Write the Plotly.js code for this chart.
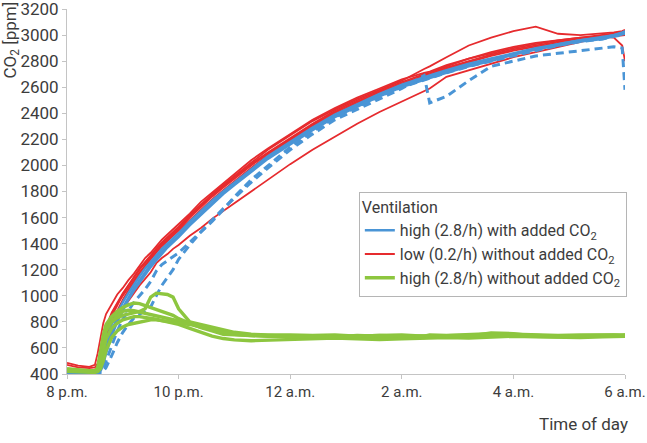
<!DOCTYPE html>
<html>
<head>
<meta charset="utf-8">
<script src="https://cdn.plot.ly/plotly-3.0.1.min.js"></script>
<style>
  html, body { margin: 0; padding: 0; background: #fff; }
  #chart { width: 647px; height: 443px; }
</style>
</head>
<body>
<div id="chart"></div>
<script>
// hours after 8 p.m.
const hours = [0, 0.2, 0.4, 0.5, 0.55, 0.6, 0.65, 0.7,
  0.8, 0.9, 1.0, 1.1, 1.2, 1.3, 1.4, 1.5, 1.6, 1.7, 1.8, 1.9, 2.0,
  2.2, 2.4, 2.6, 2.8, 3.0, 3.3, 3.6, 4.0,
  4.4, 4.8, 5.2, 5.6, 6.0, 6.4, 6.5,
  6.8, 7.2, 7.6, 8.0, 8.4, 8.8, 9.2, 9.6, 9.8, 9.95, 10.0];

const tickHours = [0, 2, 4, 6, 8, 10];
const tickLabels = ['8 p.m.', '10 p.m.', '12 a.m.', '2 a.m.', '4 a.m.', '6 a.m.'];
const ppmTicks = [400, 600, 800, 1000, 1200, 1400, 1600, 1800, 2000,
  2200, 2400, 2600, 2800, 3000, 3200];

// low ventilation (0.2/h) without added CO2
const low1 = [485, 465, 455, 470, 560, 680, 790, 860,
  940, 1010, 1060, 1120, 1170, 1230, 1290, 1330, 1380, 1430, 1470, 1510, 1550,
  1630, 1720, 1790, 1860, 1930, 2040, 2130, 2240,
  2350, 2440, 2520, 2590, 2660, 2710, 2720,
  2770, 2820, 2860, 2900, 2930, 2960, 2980, 3000, 3010, 3020, 3030];
const low2 = [470, 450, 445, 450, 480, 560, 680, 760,
  870, 950, 1020, 1080, 1140, 1200, 1250, 1300, 1360, 1410, 1450, 1490, 1530,
  1620, 1700, 1780, 1850, 1920, 2020, 2120, 2230,
  2340, 2430, 2510, 2580, 2650, 2740, 2760,
  2830, 2920, 2980, 3030, 3065, 3010, 3000, 3010, 3020, 3030, 3040];
const low3 = [410, 405, 405, 405, 410, 440, 520, 600,
  720, 820, 900, 960, 1020, 1080, 1130, 1180, 1250, 1290, 1320, 1360, 1390,
  1460, 1520, 1590, 1650, 1710, 1800, 1890, 2010,
  2120, 2220, 2320, 2410, 2490, 2570, 2590,
  2680, 2730, 2780, 2830, 2870, 2910, 2950, 2990, 3010, 3020, 3020];
const low4 = [440, 430, 425, 430, 470, 560, 660, 740,
  860, 940, 1000, 1060, 1120, 1180, 1230, 1290, 1340, 1390, 1430, 1470, 1510,
  1600, 1680, 1760, 1830, 1900, 2000, 2090, 2200,
  2310, 2410, 2490, 2560, 2630, 2690, 2700,
  2750, 2800, 2850, 2890, 2920, 2950, 2970, 2990, 3000, 3010, 3010];
const low5 = [400, 400, 402, 405, 430, 520, 620, 720,
  840, 930, 1010, 1080, 1150, 1210, 1260, 1310, 1360, 1400, 1440, 1480, 1520,
  1610, 1690, 1770, 1840, 1910, 2010, 2100, 2210,
  2320, 2420, 2500, 2570, 2640, 2700, 2710,
  2760, 2820, 2870, 2910, 2940, 2960, 2980, 2990, 2980, 2920, 2800];
const low6 = [430, 420, 418, 420, 450, 520, 610, 690,
  800, 890, 970, 1040, 1110, 1170, 1230, 1280, 1330, 1380, 1420, 1460, 1500,
  1580, 1660, 1740, 1810, 1880, 1980, 2080, 2190,
  2300, 2400, 2480, 2550, 2620, 2680, 2690,
  2740, 2790, 2840, 2880, 2910, 2940, 2960, 2980, 2990, 3000, 3000];

// high ventilation (2.8/h) with added CO2
const addedA = [425, 418, 415, 415, 420, 470, 560, 650,
  780, 870, 950, 1020, 1090, 1150, 1210, 1260, 1310, 1360, 1400, 1440, 1480,
  1570, 1650, 1730, 1800, 1870, 1970, 2070, 2180,
  2290, 2390, 2470, 2550, 2620, 2680, 2690,
  2730, 2780, 2820, 2860, 2900, 2930, 2960, 2980, 3000, 3010, 3020];
const addedB = [420, 415, 412, 412, 415, 440, 510, 600,
  730, 830, 910, 990, 1060, 1120, 1180, 1240, 1290, 1340, 1380, 1420, 1460,
  1550, 1630, 1710, 1790, 1860, 1960, 2060, 2170,
  2280, 2380, 2460, 2540, 2610, 2670, 2680,
  2720, 2770, 2810, 2850, 2890, 2920, 2950, 2970, 2990, 3000, 3010];
const addedC = [410, 408, 408, 408, 410, 420, 470, 560,
  690, 800, 890, 970, 1040, 1100, 1160, 1220, 1270, 1320, 1370, 1410, 1450,
  1540, 1620, 1700, 1780, 1850, 1950, 2050, 2160,
  2270, 2370, 2450, 2530, 2600, 2660, 2670,
  2710, 2760, 2800, 2850, 2890, 2930, 2960, 2990, 3000, 3020, 3030];
const addedDashA = [415, 410, 408, 408, 410, 415, 440, 500,
  620, 730, 820, 890, 950, 1000, 1050, 1110, 1190, 1240, 1270, 1300, 1330,
  1410, 1490, 1570, 1660, 1760, 1890, 2000, 2140,
  2260, 2370, 2450, 2530, 2600, 2660, 2670,
  2710, 2760, 2800, 2840, 2880, 2920, 2950, 2970, 2990, 3000, 3020];
const addedDashB = [405, 405, 405, 405, 406, 410, 420, 450,
  540, 640, 720, 780, 830, 860, 890, 915, 1000, 1080, 1140, 1200, 1280,
  1390, 1490, 1580, 1670, 1750, 1870, 1980, 2120,
  2240, 2350, 2430, 2510, 2590, 2690, 2480,
  2530, 2650, 2760, 2800, 2840, 2860, 2880, 2900, 2910, 2900, 2580];

// high ventilation (2.8/h) without added CO2
const plain1 = [440, 430, 425, 425, 440, 520, 640, 740,
  800, 830, 850, 860, 870, 880, 900, 990, 1020, 1015, 1010, 990, 900,
  800, 780, 760, 735, 720, 705, 700, 700,
  695, 700, 690, 695, 700, 690, 700,
  695, 700, 710, 705, 700, 695, 700, 700, 705, 700, 700];
const plain2 = [430, 425, 420, 420, 450, 580, 700, 780,
  840, 880, 910, 930, 945, 940, 925, 915, 895, 885, 870, 850, 825,
  790, 755, 730, 705, 700, 695, 690, 690,
  685, 690, 680, 685, 690, 680, 685,
  690, 685, 695, 700, 690, 685, 690, 690, 695, 690, 690];
const plain3 = [425, 420, 418, 418, 430, 520, 640, 730,
  800, 850, 880, 890, 885, 875, 865, 855, 845, 835, 830, 820, 810,
  790, 770, 745, 725, 710, 700, 695, 690,
  690, 685, 695, 690, 685, 690, 690,
  685, 690, 715, 710, 690, 690, 685, 690, 690, 695, 695];
const plain4 = [420, 415, 412, 412, 420, 480, 580, 670,
  750, 790, 815, 830, 840, 840, 835, 830, 820, 810, 800, 790, 780,
  750, 720, 690, 672, 662, 655, 660, 665,
  670, 675, 670, 665, 670, 675, 680,
  680, 675, 680, 690, 685, 680, 680, 685, 690, 690, 690];
const plain5 = [430, 425, 420, 418, 420, 440, 500, 580,
  680, 730, 760, 780, 790, 800, 810, 815, 815, 810, 805, 800, 795,
  780, 760, 740, 720, 705, 695, 690, 685,
  690, 685, 690, 695, 690, 690, 695,
  690, 695, 700, 700, 695, 690, 695, 700, 700, 695, 700];

const blue = '#4a95d6';
const red = '#e62b2e';
const green = '#8dc63f';
const textColor = '#3c3c3c';
const fontFamily = 'Liberation Sans Narrow, Roboto, sans-serif';

function series(y, color, width, dash, group, name, rank, first) {
  return {
    x: hours,
    y,
    type: 'scatter',
    mode: 'lines',
    line: { color, width, dash: dash || 'solid' },
    legendgroup: group,
    name,
    legendrank: rank,
    showlegend: first,
    hoverinfo: 'skip'
  };
}

const blueName = 'high (2.8/h) with added CO<sub>2</sub>';
const redName = 'low (0.2/h) without added CO<sub>2</sub>';
const greenName = 'high (2.8/h) without added CO<sub>2</sub>';

const data = [
  series(low3, red, 1.8, null, 'red', redName, 2, true),
  series(low2, red, 1.8, null, 'red', redName, 2, false),
  series(low5, red, 1.8, null, 'red', redName, 2, false),
  series(low6, red, 1.8, null, 'red', redName, 2, false),
  series(low4, red, 1.8, null, 'red', redName, 2, false),
  series(low1, red, 1.8, null, 'red', redName, 2, false),
  series(addedA, blue, 2.4, null, 'blue', blueName, 1, true),
  series(addedB, blue, 2.4, null, 'blue', blueName, 1, false),
  series(addedC, blue, 2.4, null, 'blue', blueName, 1, false),
  series(addedDashA, blue, 3, '8px,5px', 'blue', blueName, 1, false),
  series(addedDashB, blue, 3, '8px,5px', 'blue', blueName, 1, false),
  series(plain1, green, 3.4, null, 'green', greenName, 3, true),
  series(plain2, green, 3.4, null, 'green', greenName, 3, false),
  series(plain3, green, 3.4, null, 'green', greenName, 3, false),
  series(plain4, green, 3.4, null, 'green', greenName, 3, false),
  series(plain5, green, 3.4, null, 'green', greenName, 3, false)
];

const layout = {
  width: 647,
  height: 443,
  margin: { l: 67, r: 22, t: 9, b: 69 },
  paper_bgcolor: '#fff',
  plot_bgcolor: '#fff',
  font: { family: fontFamily, size: 17, color: textColor },
  xaxis: {
    range: [0, 10],
    tickvals: tickHours,
    ticktext: tickLabels,
    ticklabeloverflow: 'allow',
    showgrid: false,
    zeroline: false,
    showline: true,
    linecolor: '#c4c4c4',
    linewidth: 1,
    ticks: 'outside',
    ticklen: 4,
    tickcolor: '#c4c4c4',
    tickfont: { size: 15, color: textColor }
  },
  yaxis: {
    range: [400, 3200],
    tickmode: 'array',
    tickvals: ppmTicks,
    ticklabeloverflow: 'allow',
    showgrid: false,
    zeroline: false,
    showline: true,
    linecolor: '#c4c4c4',
    linewidth: 1,
    ticks: 'outside',
    ticklen: 4,
    tickcolor: '#c4c4c4',
    tickfont: { size: 17, color: textColor }
  },
  showlegend: true,
  legend: {
    x: 0.523,
    y: 0.5,
    xanchor: 'left',
    yanchor: 'top',
    bgcolor: '#fff',
    bordercolor: '#b5b5b5',
    borderwidth: 1,
    tracegroupgap: 0,
    font: { size: 16, color: textColor },
    title: { text: 'Ventilation', font: { size: 16, color: textColor } }
  },
  annotations: [
    {
      text: 'CO<sub>2</sub> [ppm]',
      xref: 'paper', yref: 'paper',
      x: 0, y: 1,
      xanchor: 'center', yanchor: 'top',
      xshift: -56, yshift: 9,
      textangle: -90,
      showarrow: false,
      font: { size: 17, color: textColor }
    },
    {
      text: 'Time of day',
      xref: 'paper', yref: 'paper',
      x: 1, y: 0,
      xanchor: 'right', yanchor: 'top',
      xshift: 5, yshift: -38,
      showarrow: false,
      font: { size: 17, color: textColor }
    }
  ]
};

Plotly.newPlot('chart', data, layout, { staticPlot: true, displayModeBar: false });
</script>
</body>
</html>
